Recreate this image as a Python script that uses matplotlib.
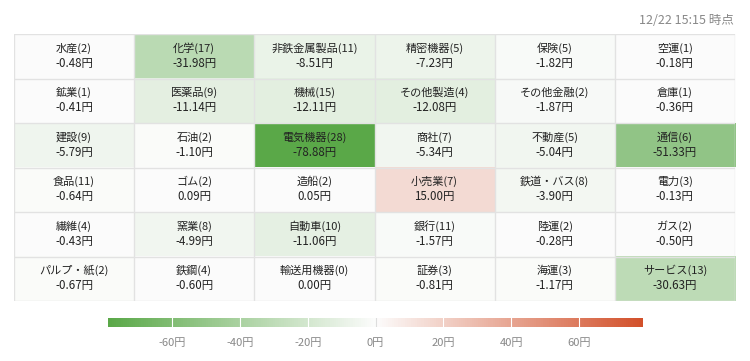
import numpy as np
import matplotlib
matplotlib.use("Agg")
from matplotlib import pyplot as plt
from matplotlib.colors import LinearSegmentedColormap, Normalize

plt.rcParams['font.family'] = ['Noto Sans CJK JP', 'DejaVu Sans']

# sector names, constituent counts and contribution (yen), row by row
names = [
    ["水産", "化学", "非鉄金属製品", "精密機器", "保険", "空運"],
    ["鉱業", "医薬品", "機械", "その他製造", "その他金融", "倉庫"],
    ["建設", "石油", "電気機器", "商社", "不動産", "通信"],
    ["食品", "ゴム", "造船", "小売業", "鉄道・バス", "電力"],
    ["繊維", "窯業", "自動車", "銀行", "陸運", "ガス"],
    ["パルプ・紙", "鉄鋼", "輸送用機器", "証券", "海運", "サービス"],
]
counts = [
    [2, 17, 11, 5, 5, 1],
    [1, 9, 15, 4, 2, 1],
    [9, 2, 28, 7, 5, 6],
    [11, 2, 2, 7, 8, 3],
    [4, 8, 10, 11, 2, 2],
    [2, 4, 0, 3, 3, 13],
]
values = [
    [-0.48, -31.98, -8.51, -7.23, -1.82, -0.18],
    [-0.41, -11.14, -12.11, -12.08, -1.87, -0.36],
    [-5.79, -1.10, -78.88, -5.34, -5.04, -51.33],
    [-0.64, 0.09, 0.05, 15.00, -3.90, -0.13],
    [-0.43, -4.99, -11.06, -1.57, -0.28, -0.50],
    [-0.67, -0.60, 0.00, -0.81, -1.17, -30.63],
]
cbar_ticks = [-60, -40, -20, 0, 20, 40, 60]
timestamp = "12/22 15:15 時点"

vals = np.array(values)
vmax = np.abs(vals).max()
cmap = LinearSegmentedColormap.from_list("gwr", ["#5aa848", "#fcfcfc", "#d2502a"])
norm = Normalize(-vmax, vmax)

fig = plt.figure(figsize=(7.5, 3.61), dpi=100)
W, H = 750, 361

def px(x0, y0, x1, y1):
    return [x0 / W, 1 - y1 / H, (x1 - x0) / W, (y1 - y0) / H]

ax = fig.add_axes(px(14, 34, 735, 301))
nr, nc = vals.shape
ax.imshow(vals, cmap=cmap, norm=norm, aspect="auto",
          extent=(0, nc, nr, 0), interpolation="nearest")
for i in range(nr + 1):
    ax.axhline(i, color="#e2e2e2", lw=1)
for j in range(nc + 1):
    ax.axvline(j, color="#e2e2e2", lw=1)
for i in range(nr):
    for j in range(nc):
        ax.text(j + 0.5, i + 0.32, f"{names[i][j]}({counts[i][j]})",
                ha="center", va="center", fontsize=8, color="#222222")
        ax.text(j + 0.5, i + 0.655, f"{values[i][j]:.2f}円",
                ha="center", va="center", fontsize=8.3, color="#222222")
ax.set_xlim(0, nc)
ax.set_ylim(nr, 0)
ax.axis("off")

fig.text(734 / W, 1 - 20 / H, timestamp, ha="right", va="center",
         fontsize=9, color="#888888")

# colour scale
cax = fig.add_axes(px(108, 318, 643, 327))
cb = fig.colorbar(plt.cm.ScalarMappable(norm=norm, cmap=cmap), cax=cax,
                  orientation="horizontal")
cb.outline.set_visible(False)
cb.set_ticks(cbar_ticks)
cb.set_ticklabels([f"{t}円" for t in cbar_ticks])
cax.tick_params(length=0, pad=8, labelsize=8, labelcolor="#888888")
for t in cbar_ticks:
    cax.axvline(t, color="white" if t else "#dddddd", lw=0.8)

fig.savefig("out.png", dpi=100)
